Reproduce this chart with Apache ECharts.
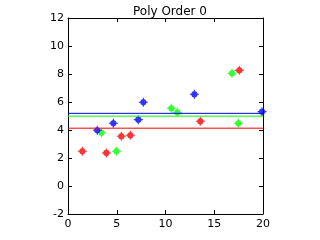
<!DOCTYPE html>
<html><head><meta charset="utf-8">
<script src="https://cdn.jsdelivr.net/npm/echarts@6/dist/echarts.min.js"></script>
<style>html,body{margin:0;padding:0;background:#fff}#c{width:320px;height:240px}</style>
</head><body><div id="c"></div>
<script>
var title = "Poly Order 0";
var redX = [1.47, 3.93, 5.47, 6.39, 13.57, 17.57];
var redY = [2.48, 2.36, 3.55, 3.62, 4.62, 8.26];
var greenX = [3.42, 4.96, 10.6, 11.21, 16.82, 17.47];
var greenY = [3.81, 2.48, 5.55, 5.26, 8.05, 4.48];
var blueX = [3.0, 4.65, 7.21, 7.73, 12.96, 19.9];
var blueY = [3.98, 4.48, 4.74, 5.98, 6.55, 5.31];
var fitRed = 4.13, fitGreen = 4.99, fitBlue = 5.19;
var xTicks = [0, 5, 10, 15, 20];
var yTicks = [-2, 0, 2, 4, 6, 8, 10, 12];

var star = 'path://M-0.6,-5 L0.6,-5 L0.6,-3.6 L2.6,-2.6 L3.6,-0.6 L5,-0.6 L5,0.6 L3.6,0.6 L2.6,2.6 L0.6,3.6 L0.6,5 L-0.6,5 L-0.6,3.6 L-2.6,2.6 L-3.6,0.6 L-5,0.6 L-5,-0.6 L-3.6,-0.6 L-2.6,-2.6 L-0.6,-3.6 Z';
function pts(xs, ys){ return xs.map(function(x,i){return [x, ys[i]];}); }
function flat(v){ return [[xTicks[0], v],[xTicks[xTicks.length-1], v]]; }
var font = 'DejaVu Sans';
var axisCommon = {
  axisLine:{show:true, onZero:false, lineStyle:{color:'#000', width:1}},
  axisTick:{show:true, inside:true, length:4, lineStyle:{color:'#000'}},
  splitLine:{show:false}
};
var chart = echarts.init(document.getElementById('c'), null, {renderer:'canvas'});
function sc(name, xs, ys, color){
  return {type:'scatter', name:name, data:pts(xs,ys), symbol:star, symbolSize:9,
    itemStyle:{color:color}, animation:false, z:2};
}
function ln(v, color){
  return {type:'line', data:flat(v), symbol:'none', lineStyle:{color:color, width:1}, animation:false, z:3};
}
chart.setOption({
  backgroundColor:'#fff',
  animation:false,
  title:{text:title, left:165, textAlign:'center', top:1,
    textStyle:{fontFamily:font, fontSize:12, fontWeight:'normal', color:'#000'}},
  grid:{left:68, right:57, top:18, bottom:26},
  xAxis:[
    Object.assign({type:'value', min:0, max:20, interval:5, position:'bottom',
      axisLabel:{color:'#000', fontFamily:font, fontSize:11, margin:5}}, axisCommon),
    Object.assign({type:'value', min:0, max:20, interval:5, position:'top',
      axisLabel:{show:false}}, axisCommon)
  ],
  yAxis:[
    Object.assign({type:'value', min:-2, max:12, interval:2, position:'left',
      axisLabel:{color:'#000', fontFamily:font, fontSize:11, margin:4}}, axisCommon),
    Object.assign({type:'value', min:-2, max:12, interval:2, position:'right',
      axisLabel:{show:false}}, axisCommon)
  ],
  series:[
    sc('red', redX, redY, '#ff0000'),
    sc('green', greenX, greenY, '#00ff00'),
    sc('blue', blueX, blueY, '#0000ff'),
    ln(fitBlue, '#0000ff'),
    ln(fitGreen, '#00ff00'),
    ln(fitRed, '#ff0000')
  ]
});
</script></body></html>
